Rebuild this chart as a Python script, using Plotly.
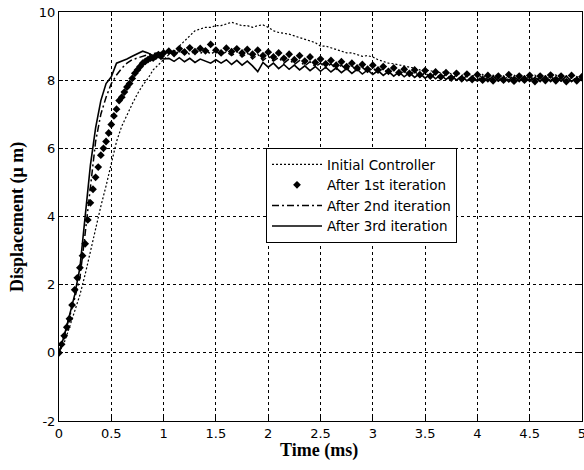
import plotly.graph_objects as go

# time grids (ms)
t_line = [round(i * 0.05, 2) for i in range(101)]
t_diam = [round(i * 0.025, 3) for i in range(41)] + [round(1.0 + i * 0.05, 2) for i in range(1, 81)]

initial_ctrl = [0.0, 0.3, 0.75, 1.2, 1.7, 2.3, 3.0, 3.7, 4.3, 4.9, 5.6, 6.2, 6.65, 7.0, 7.3, 7.6, 7.85, 8.05, 8.3, 8.45, 8.6,
                8.75, 8.85, 9.0, 9.15, 9.3, 9.45, 9.5, 9.55, 9.55, 9.6, 9.6, 9.65, 9.7, 9.65, 9.6, 9.6, 9.55, 9.6, 9.62, 9.55,
                9.45, 9.4, 9.38, 9.35, 9.3, 9.25, 9.2, 9.15, 9.1, 9.0, 9.0, 8.95, 8.9, 8.85, 8.8, 8.8, 8.75, 8.7, 8.72, 8.68,
                8.6, 8.55, 8.5, 8.48, 8.45, 8.42, 8.4, 8.35, 8.3, 8.3,
                8.28, 8.24, 8.22, 8.26, 8.18, 8.2, 8.14, 8.2, 8.12, 8.16, 8.08, 8.14, 8.06, 8.12, 8.04, 8.1, 8.02, 8.1, 8.04, 8.12,
                8.02, 8.08, 8.03, 8.1, 8.02, 8.08, 8.0, 8.07, 8.02, 8.05]

iter1 = [0.0, 0.25, 0.5, 0.75, 1.0, 1.4, 1.85, 2.2, 2.5, 2.85, 3.2, 3.9, 4.4, 4.8, 5.15, 5.45, 5.8, 6.0, 6.2, 6.45, 6.7,
         6.95, 7.15, 7.4, 7.5, 7.65, 7.8, 7.9, 8.05, 8.2, 8.3, 8.4, 8.5, 8.55, 8.6, 8.65, 8.65, 8.7, 8.75, 8.7, 8.8,
         8.85, 8.78, 8.92, 8.82, 8.95, 8.84, 8.93, 8.86, 9.05, 8.88, 8.8, 8.94, 8.84, 8.92, 8.8, 8.9, 8.76, 8.88, 8.72, 8.82,
         8.68, 8.8, 8.64, 8.76, 8.6, 8.72, 8.56, 8.68, 8.52, 8.62,
         8.48, 8.58, 8.44, 8.54, 8.4, 8.5, 8.36, 8.46, 8.32, 8.44,
         8.3, 8.4, 8.26, 8.36, 8.22, 8.32, 8.2, 8.3, 8.16, 8.28,
         8.12, 8.24, 8.1, 8.22, 8.06, 8.2, 8.04, 8.18, 8.02, 8.16,
         8.0, 8.14, 7.98, 8.12, 8.0, 8.16, 7.97, 8.12, 8.0, 8.14,
         7.96, 8.12, 7.99, 8.15, 7.98, 8.12, 7.96, 8.14, 7.98, 8.1]

iter2 = [0.0, 0.5, 1.05, 1.6, 2.2, 3.5, 4.9, 6.2, 7.0, 7.5, 7.9, 8.15, 8.35, 8.5, 8.6, 8.65, 8.72, 8.75, 8.78, 8.8, 8.82,
         8.76, 8.88, 8.78, 8.9, 8.75, 8.86, 8.78, 8.9, 8.76, 8.86, 8.74, 8.84, 8.72, 8.84, 8.68, 8.8, 8.62, 8.76, 8.58, 8.7,
         8.56, 8.66, 8.5, 8.62, 8.46, 8.58, 8.42, 8.54, 8.4, 8.5,
         8.36, 8.48, 8.32, 8.44, 8.3, 8.42, 8.26, 8.38, 8.24, 8.36,
         8.22, 8.34, 8.2, 8.3, 8.16, 8.28, 8.12, 8.26, 8.1, 8.22,
         8.08, 8.2, 8.04, 8.18, 8.02, 8.16, 8.0, 8.14, 8.02, 7.98,
         8.16, 8.0, 8.14, 7.97, 8.12, 8.0, 8.16, 7.96, 8.12, 7.99,
         8.14, 7.96, 8.12, 7.98, 8.15, 7.97, 8.12, 7.96, 8.1, 8.0]

iter3 = [0.0, 0.5, 1.1, 1.7, 2.5, 4.0, 5.5, 6.6, 7.4, 7.9, 8.1, 8.5, 8.55, 8.62, 8.7, 8.78, 8.85, 8.8, 8.72, 8.68, 8.62,
         8.64, 8.55, 8.66, 8.54, 8.64, 8.52, 8.62, 8.56, 8.5, 8.6, 8.5, 8.6, 8.46, 8.58, 8.44, 8.56, 8.42, 8.25, 8.52, 8.38,
         8.5, 8.34, 8.46, 8.32, 8.44, 8.3, 8.42, 8.28, 8.4, 8.26,
         8.38, 8.24, 8.36, 8.22, 8.34, 8.2, 8.32, 8.18, 8.3, 8.17,
         8.28, 8.14, 8.26, 8.12, 8.24, 8.1, 8.22, 8.08, 8.2, 8.06,
         8.18, 8.04, 8.16, 8.02, 8.14, 8.0, 8.12, 7.98, 8.12, 7.98,
         8.1, 7.96, 8.12, 7.98, 8.1, 7.95, 8.1, 7.98, 8.12, 7.96,
         8.08, 7.97, 8.12, 7.96, 8.1, 7.98, 8.12, 7.96, 8.08, 7.98]

x_ticks = [0, 0.5, 1, 1.5, 2, 2.5, 3, 3.5, 4, 4.5, 5]
x_labels = ["0", "0.5", "1", "1.5", "2", "2.5", "3", "3.5", "4", "4.5", "5"]
y_ticks = [-2, 0, 2, 4, 6, 8, 10]
y_labels = ["-2", "0", "2", "4", "6", "8", "10"]

fig = go.Figure()
fig.add_trace(go.Scatter(x=t_line, y=initial_ctrl, mode="lines", name="Initial Controller",
                         line=dict(color="black", width=1.2, dash="2px,2px")))
fig.add_trace(go.Scatter(x=t_diam, y=iter1, mode="markers", name="After 1st iteration",
                         marker=dict(symbol="diamond", size=6, color="black")))
fig.add_trace(go.Scatter(x=t_line, y=iter2, mode="lines", name="After 2nd iteration",
                         line=dict(color="black", width=1.5, dash="7px,3px,2px,3px")))
fig.add_trace(go.Scatter(x=t_line, y=iter3, mode="lines", name="After 3rd iteration",
                         line=dict(color="black", width=1.6)))

tick_font = dict(family="DejaVu Sans", size=13, color="black")
axis_common = dict(showline=True, linecolor="black", linewidth=1, mirror="ticks",
                   ticks="inside", ticklen=4, tickcolor="black", automargin=False,
                   showgrid=True, gridcolor="black", gridwidth=1, griddash="3px,3px",
                   zeroline=False, tickfont=tick_font)

fig.update_xaxes(range=[0, 5], tickvals=x_ticks, ticktext=x_labels, ticklabeloverflow="allow", **axis_common)
fig.update_yaxes(range=[-2, 10], tickvals=y_ticks, ticktext=y_labels, **axis_common)

title_font = dict(family="Liberation Serif, Times New Roman", size=18, color="black")
fig.add_annotation(text="<b>Time (ms)</b>", xref="paper", yref="paper", x=(319 - 59) / 523, y=-(450 - 421) / 409,
                   xanchor="center", yanchor="middle", showarrow=False, font=title_font)
fig.add_annotation(text="<b>Displacement (μ m)</b>", xref="paper", yref="paper", x=-(59 - 18) / 523, y=(421 - 217) / 409,
                   xanchor="center", yanchor="middle", showarrow=False, textangle=-90, font=title_font)

fig.update_layout(
    width=584, height=470,
    margin=dict(l=59, r=2, t=12, b=49),
    paper_bgcolor="white", plot_bgcolor="white",
    showlegend=True,
    legend=dict(x=(266 - 59) / 523, y=(421 - 148) / 409, xanchor="left", yanchor="top",
                bgcolor="white", bordercolor="black", borderwidth=1,
                font=dict(family="DejaVu Sans", size=13.5, color="black"),
                itemwidth=50, tracegroupgap=0),
)

fig.write_html("out.html", config={"displayModeBar": False},
               post_script="document.body.style.margin='0';document.body.style.overflow='hidden';")
